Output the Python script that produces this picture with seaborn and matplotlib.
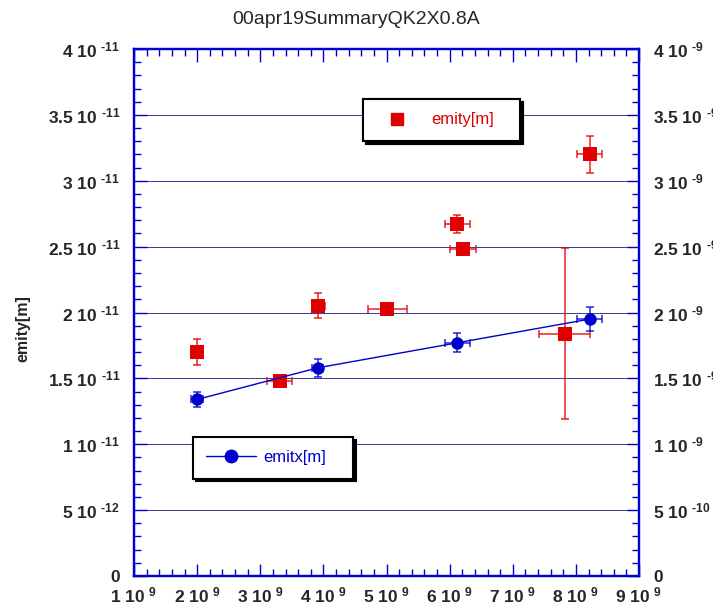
import numpy as np
import pandas as pd
import matplotlib
matplotlib.use("Agg")
import matplotlib.pyplot as plt
import seaborn as sns
from matplotlib.ticker import MultipleLocator, FuncFormatter, AutoMinorLocator
from matplotlib.lines import Line2D

# ---- data ----
x_red = [2.0e9, 3.31e9, 3.92e9, 5.01e9, 6.12e9, 6.21e9, 7.82e9, 8.22e9]
y_red = [1.70e-11, 1.48e-11, 2.05e-11, 2.03e-11, 2.67e-11, 2.48e-11, 1.84e-11, 3.20e-11]
xerr_red = [0.1e9, 0.2e9, 0.1e9, 0.31e9, 0.2e9, 0.2e9, 0.41e9, 0.2e9]
yerr_red = [0.1e-11, 0.02e-11, 0.095e-11, 0.02e-11, 0.068e-11, 0.02e-11, 0.65e-11, 0.139e-11]

x_blue = [2.0e9, 3.91e9, 6.12e9, 8.22e9]
y_blue = [1.34e-9, 1.58e-9, 1.77e-9, 1.95e-9]
xerr_blue = [0.1e9, 0.09e9, 0.2e9, 0.2e9]
yerr_blue = [0.06e-9, 0.07e-9, 0.072e-9, 0.09e-9]

title = "00apr19SummaryQK2X0.8A"
red_name = "emity[m]"
blue_name = "emitx[m]"

sns.set_style("white")
plt.rcParams['font.family'] = ['Liberation Sans', 'DejaVu Sans']
plt.rcParams['mathtext.fontset'] = 'custom'
plt.rcParams['mathtext.rm'] = 'Liberation Sans:bold'
plt.rcParams['mathtext.it'] = 'Liberation Sans:bold'
plt.rcParams['mathtext.bf'] = 'Liberation Sans:bold'

RED = '#e00000'
BLUE = '#0000cc'

fig = plt.figure(figsize=(7.13, 6.12), dpi=100)
ax = fig.add_axes([134/713, 1-576/612, 505/713, 527/612])
ax2 = ax.twinx()

df_red = pd.DataFrame({'x': x_red, 'y': y_red})
df_blue = pd.DataFrame({'x': x_blue, 'y': y_blue})

ax.errorbar(x_red, y_red, xerr=xerr_red, yerr=yerr_red, fmt='none',
            ecolor=RED, elinewidth=1.1, capsize=3, capthick=1.1, alpha=0.85, zorder=3)
sns.scatterplot(data=df_red, x='x', y='y', ax=ax, marker='s', s=90, color=RED,
                edgecolor=RED, linewidth=0, zorder=4, legend=False)

ax2.errorbar(x_blue, y_blue, xerr=xerr_blue, yerr=yerr_blue, fmt='none',
             ecolor=BLUE, elinewidth=1.1, capsize=3, capthick=1.1, alpha=0.85, zorder=3)
sns.lineplot(data=df_blue, x='x', y='y', ax=ax2, color=BLUE, linewidth=1.0,
             marker='o', markersize=9, markeredgewidth=0, zorder=4, legend=False)

ax.set_xlim(1e9, 9e9)
ax.set_ylim(0, 4e-11)
ax2.set_ylim(0, 4e-9)

def sci(v, pos=None):
    if abs(v) < 1e-30:
        return "0"
    e = int(np.floor(np.log10(abs(v)) + 1e-9))
    m = v / 10**e
    es = str(e).replace("-", "\u2010")
    return "%g 10 $^{%s}$" % (round(m, 3), es)

ax.xaxis.set_major_locator(MultipleLocator(1e9))
ax.xaxis.set_minor_locator(AutoMinorLocator(5))
ax.yaxis.set_major_locator(MultipleLocator(5e-12))
ax.yaxis.set_minor_locator(AutoMinorLocator(5))
ax2.yaxis.set_major_locator(MultipleLocator(5e-10))
ax2.yaxis.set_minor_locator(AutoMinorLocator(5))
ax.xaxis.set_major_formatter(FuncFormatter(sci))
ax.yaxis.set_major_formatter(FuncFormatter(sci))
ax2.yaxis.set_major_formatter(FuncFormatter(sci))
ax.yaxis.get_offset_text().set_visible(False)
ax2.yaxis.get_offset_text().set_visible(False)
ax.xaxis.get_offset_text().set_visible(False)

ax.tick_params(axis='x', which='both', direction='in', top=True, bottom=True,
               color=BLUE, labelsize=12.5, pad=7)
ax.tick_params(axis='y', which='both', direction='in', left=True, right=False,
               color=BLUE, labelsize=12.5, pad=10)
ax.tick_params(which='major', length=9, width=1)
ax.tick_params(which='minor', length=5, width=1)
ax2.tick_params(axis='y', which='both', direction='in', right=True, color=BLUE,
                labelsize=12.5, pad=10)
ax2.tick_params(which='major', length=9, width=1)
ax2.tick_params(which='minor', length=5, width=1)
for lab in ax.get_xticklabels() + ax.get_yticklabels() + ax2.get_yticklabels():
    lab.set_fontweight('bold')

for a in (ax, ax2):
    for s in a.spines.values():
        s.set_color(BLUE)
        s.set_linewidth(1.6)

ax.yaxis.grid(True, which='major', color='#1a1a80', linewidth=0.6, linestyle='-')
ax.set_axisbelow(True)
ax.set_xlabel("")
ax.set_ylabel(red_name, fontsize=11.5, fontweight='bold')
ax.yaxis.set_label_coords(-0.205, 0.47)
ax2.set_ylabel("")
fig.suptitle(title, fontsize=14, y=0.982)

h_red = [Line2D([], [], marker='s', color=RED, linestyle='none', markersize=9)]
h_blue = [Line2D([], [], marker='o', color=BLUE, linestyle='-', markersize=9, linewidth=1)]
leg1 = ax.legend(h_red, [red_name], loc='upper left',
                 bbox_to_anchor=(0.453, 0.905 - 0.078, 0.311, 0.078), mode='expand',
                 frameon=True, fancybox=False, shadow={'color': 'black', 'alpha': 1},
                 fontsize=12, labelcolor=RED, borderpad=0.8, handlelength=2.5,
                 borderaxespad=0)
leg1.get_frame().set_edgecolor('black')
leg1.get_frame().set_linewidth(1.5)
ax.add_artist(leg1)
leg2 = ax2.legend(h_blue, [blue_name], loc='upper left',
                  bbox_to_anchor=(0.117, 0.264 - 0.078, 0.317, 0.078), mode='expand',
                  frameon=True, fancybox=False, shadow={'color': 'black', 'alpha': 1},
                  fontsize=12, labelcolor=BLUE, borderpad=0.8, handlelength=3.0,
                  handletextpad=0.4, borderaxespad=0)
leg2.get_frame().set_edgecolor('black')
leg2.get_frame().set_linewidth(1.5)

fig.savefig("out.png", dpi=100)
